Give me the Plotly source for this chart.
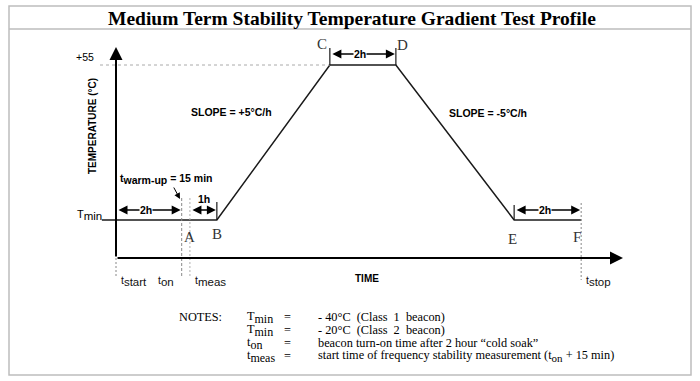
import plotly.graph_objects as go

# ---------------- data (schematic time in hours, temperature in °C) ----------------
profile_times = [-0.43, 3.07, 6.51, 8.52, 12.12, 14.16]
profile_temps = [-40, -40, 55, 55, -40, -40]

point_labels = ["A", "B", "C", "D", "E", "F"]
point_times = [2.25, 3.07, 6.51, 8.52, 12.12, 14.16]
point_temps = [-40, -40, 55, 55, -40, -40]

event_names = ["start", "on", "meas", "stop"]
event_times = [0.0, 2.0, 2.25, 14.16]

tmin_level = -40
tmax_level = 55

interval_labels = ["2h", "1h", "2h", "2h"]
interval_starts = [0.0, 2.25, 6.51, 12.12]
interval_ends = [2.0, 3.07, 8.52, 14.16]
interval_levels = [-40, -40, 55, -40]

slope_labels = ["SLOPE = +5°C/h", "SLOPE = -5°C/h"]

notes_names = [("T", "min"), ("T", "min"), ("t", "on"), ("t", "meas")]
notes_values = ["- 40°C  (Class  1  beacon)",
                "- 20°C  (Class  2  beacon)",
                "beacon turn-on time after 2 hour \u201ccold soak\u201d",
                "start time of frequency stability measurement (t<sub><span style='font-size:11px'>on</span></sub> + 15 min)"]

title_text = "Medium Term Stability Temperature Gradient Test Profile"

# ---------------- geometry helpers ----------------
W, H = 700, 381
ORIGIN_PX = 116.0          # pixel column of t = 0
KX = 32.85                 # pixels per hour (schematic)
TMIN_PY = 220.0            # pixel row of Tmin
KY = 155.0 / 95.0          # pixels per °C


def px2x(px):
    return (px - ORIGIN_PX) / KX


def py2y(py):
    return tmin_level - (py - TMIN_PY) / KY


def PX(px):
    return px / W


def PY(py):
    return 1 - py / H


def subtxt(main, sub, size):
    return f"{main}<sub><span style='font-size:{size}px'>{sub}</span></sub>"


SANS = "Liberation Sans, Arial, sans-serif"
SERIF = "Liberation Serif, Times New Roman, serif"

fig = go.Figure()

# temperature profile
fig.add_trace(go.Scatter(x=profile_times, y=profile_temps, mode="lines",
                         line=dict(color="#1a1a1a", width=1.5),
                         hoverinfo="skip", showlegend=False))

shapes = []
annotations = []

# frame and title separator
shapes.append(dict(type="rect", xref="paper", yref="paper",
                   x0=PX(9), x1=PX(691), y0=PY(375), y1=PY(6),
                   line=dict(color="#bdbdbd", width=1.5)))
shapes.append(dict(type="line", xref="paper", yref="paper",
                   x0=PX(9), x1=PX(691), y0=PY(29), y1=PY(29),
                   line=dict(color="#bdbdbd", width=1.5)))

annotations.append(dict(xref="paper", yref="paper", x=PX(352), y=PY(18),
                        text="<b>" + title_text + "</b>", showarrow=False,
                        xanchor="center", yanchor="middle",
                        font=dict(family=SERIF, size=19.5, color="#000")))

# +55 dotted level
shapes.append(dict(type="line", xref="x", yref="y",
                   x0=px2x(100), x1=point_times[2], y0=tmax_level, y1=tmax_level,
                   line=dict(color="#aaaaaa", width=1, dash="dot")))

# axes with arrows
base_y = py2y(258)
annotations.append(dict(x=0, y=py2y(47), ax=0, ay=base_y, xref="x", yref="y",
                        axref="x", ayref="y", text="", showarrow=True,
                        arrowhead=2, arrowsize=1.3, arrowwidth=2, arrowcolor="#000"))
annotations.append(dict(x=px2x(623), y=base_y, ax=0, ay=base_y, xref="x", yref="y",
                        axref="x", ayref="y", text="", showarrow=True,
                        arrowhead=2, arrowsize=1.3, arrowwidth=2, arrowcolor="#000"))

# event vertical lines
ev_spans = [(258, 277, "#888888", "2px,2px"), (198, 277, "#888888", "3px,2px"),
            (198, 277, "#b0b0b0", "2px,2px"), (203, 280, "#888888", "2px,2px")]
for t, (p0, p1, c, d) in zip(event_times, ev_spans):
    shapes.append(dict(type="line", xref="x", yref="y", x0=t, x1=t,
                       y0=py2y(p0), y1=py2y(p1),
                       line=dict(color=c, width=1, dash=d)))

# event labels
ev_shift = [(3, "left"), (-6, "right"), (3, "left"), (3, "left")]
for name, t, (xs, anc) in zip(event_names, event_times, ev_shift):
    annotations.append(dict(x=t, y=py2y(281), xref="x", yref="y",
                            text=subtxt("t", name, 11.5), showarrow=False,
                            xanchor=anc, yanchor="middle", xshift=xs,
                            font=dict(family=SANS, size=10.5, color="#111")))

# vertical ticks at B, C, D, E
for i, h in [(1, 18), (2, 17), (3, 17), (4, 15)]:
    shapes.append(dict(type="line", xref="x", yref="y", ysizemode="pixel",
                       yanchor=point_temps[i], x0=point_times[i], x1=point_times[i],
                       y0=0, y1=h, line=dict(color="#1a1a1a", width=1.2)))

# interval double arrows
int_shift = [10, 10, 11, 10]
for lab, s, e, lev, ys in zip(interval_labels, interval_starts, interval_ends,
                              interval_levels, int_shift):
    annotations.append(dict(x=e, y=lev, ax=s, ay=lev, xref="x", yref="y",
                            axref="x", ayref="y", text="", showarrow=True,
                            arrowside="end+start", arrowhead=2, startarrowhead=2,
                            arrowsize=1.2, startarrowsize=1.2, arrowwidth=1.5,
                            arrowcolor="#000", standoff=1, startstandoff=1,
                            yshift=ys))
    if lab == "1h":
        annotations.append(dict(x=(s + e) / 2, y=lev, xref="x", yref="y", text="<b>1h</b>",
                                showarrow=False, yshift=21, xshift=1,
                                font=dict(family=SANS, size=10.5, color="#000")))
    else:
        annotations.append(dict(x=(s + e) / 2, y=lev, xref="x", yref="y",
                                text="<b>" + lab + "</b>", showarrow=False,
                                yshift=ys, xshift=-3, bgcolor="#ffffff", borderpad=0,
                                font=dict(family=SANS, size=10.5, color="#000")))

# point letters
pt_shift = [(0, -17), (0, -14), (-8, 21), (7, 20), (-2, -19), (-4, -17)]
for lab, t, v, (xs, ys) in zip(point_labels, point_times, point_temps, pt_shift):
    annotations.append(dict(x=t, y=v, xref="x", yref="y", text=lab, showarrow=False,
                            xshift=xs, yshift=ys,
                            font=dict(family=SERIF, size=15, color="#333")))

# slope labels
annotations.append(dict(x=px2x(189), y=py2y(112), xref="x", yref="y",
                        text="<b>" + slope_labels[0] + "</b>", showarrow=False,
                        xanchor="left", font=dict(family=SANS, size=10.5, color="#000")))
annotations.append(dict(x=px2x(447), y=py2y(113), xref="x", yref="y",
                        text="<b>" + slope_labels[1] + "</b>", showarrow=False,
                        xanchor="left", font=dict(family=SANS, size=10.5, color="#000")))

# axis texts
annotations.append(dict(x=px2x(96), y=tmax_level, xref="x", yref="y", text="+55",
                        showarrow=False, xanchor="right", yshift=8,
                        font=dict(family=SANS, size=10.5, color="#000")))
annotations.append(dict(x=px2x(104), y=tmin_level, xref="x", yref="y",
                        text=subtxt("T", "min", 11.5), showarrow=False, xanchor="right",
                        yshift=5, font=dict(family=SANS, size=11, color="#000")))
annotations.append(dict(x=px2x(92), y=py2y(126), xref="x", yref="y",
                        text="<b>TEMPERATURE (°C)</b>", showarrow=False, textangle=-90,
                        font=dict(family=SANS, size=10, color="#000")))
annotations.append(dict(x=px2x(367), y=py2y(278), xref="x", yref="y",
                        text="<b>TIME</b>", showarrow=False,
                        font=dict(family=SANS, size=10, color="#000")))

# warm-up label and pointer
annotations.append(dict(x=px2x(118), y=py2y(179), xref="x", yref="y",
                        text="<b>" + subtxt("t", "warm-up", 10.5) + " = 15 min</b>",
                        showarrow=False, xanchor="left",
                        font=dict(family=SANS, size=10.5, color="#000")))
annotations.append(dict(x=px2x(180), y=py2y(199), ax=px2x(173), ay=py2y(186),
                        xref="x", yref="y", axref="x", ayref="y", text="",
                        showarrow=True, arrowhead=2, arrowsize=1.2, arrowwidth=1,
                        arrowcolor="#000"))

# notes block
rows_py = [317, 330, 343, 356]
annotations.append(dict(xref="paper", yref="paper", x=PX(177), y=PY(rows_py[0]),
                        text="NOTES:", showarrow=False, xanchor="left", yanchor="middle",
                        font=dict(family=SERIF, size=12.3, color="#000")))
for py, (mn, sb), val in zip(rows_py, notes_names, notes_values):
    annotations.append(dict(xref="paper", yref="paper", x=PX(245), y=PY(py),
                            text=subtxt(mn, sb, 12), showarrow=False,
                            xanchor="left", yanchor="middle",
                            font=dict(family=SERIF, size=12.3, color="#000")))
    annotations.append(dict(xref="paper", yref="paper", x=PX(282), y=PY(py), text="=",
                            showarrow=False, xanchor="left", yanchor="middle",
                            font=dict(family=SERIF, size=12.3, color="#000")))
    annotations.append(dict(xref="paper", yref="paper", x=PX(316), y=PY(py), text=val,
                            showarrow=False, xanchor="left", yanchor="middle",
                            font=dict(family=SERIF, size=12.3, color="#000")))

fig.update_layout(
    width=W, height=H,
    margin=dict(l=0, r=0, t=0, b=0, pad=0),
    paper_bgcolor="#ffffff", plot_bgcolor="#ffffff",
    xaxis=dict(range=[px2x(0), px2x(W)], visible=False, fixedrange=True),
    yaxis=dict(range=[py2y(H), py2y(0)], visible=False, fixedrange=True),
    shapes=shapes, annotations=annotations, showlegend=False,
)

fig.write_html("out.html", config={"displayModeBar": False},
               post_script="document.body.style.margin='0';document.body.style.overflow='hidden';")
